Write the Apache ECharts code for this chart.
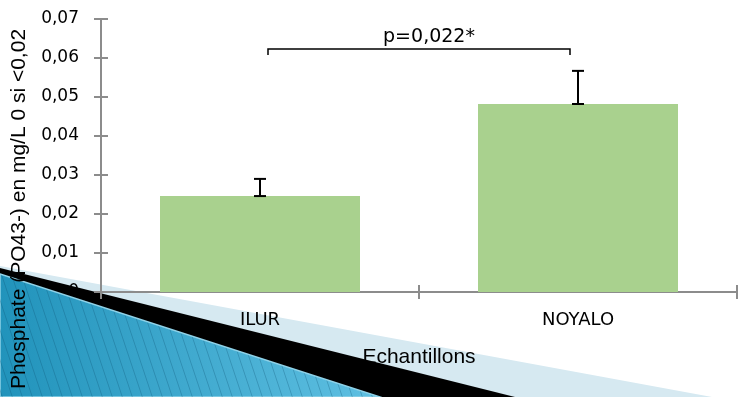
<!DOCTYPE html>
<html>
<head>
<meta charset="utf-8">
<script src="https://cdn.jsdelivr.net/npm/echarts@6/dist/echarts.min.js"></script>
<style>
  html, body { margin: 0; padding: 0; background: #ffffff; }
  #chart { width: 740px; height: 397px; }
</style>
</head>
<body>
<div id="chart"></div>
<script>
// Phosphate concentration per sampling site
const categories = ['ILUR', 'NOYALO'];
const meanValues = [0.0246, 0.0482];
const errorPlus = [0.0044, 0.0085];

// y axis scale
const yMin = 0;
const yMax = 0.07;
const yStep = 0.01;

// significance bracket between the two sites
const bracketLevel = 0.0623;
const bracketTip = 0.0608;
const pLabel = 'p=0,022*';

const yTitle = 'Phosphate (PO43-) en mg/L 0 si <0,02';
const xTitle = 'Echantillons';

const axisGrey = '#8c8c8c';
const barGreen = '#a9d18e';

function fmtTick(v) {
  if (Math.abs(v) < 1e-9) return '0';
  return v.toFixed(2).replace('.', ',');
}

// diagonal stripe tile for the decorative band
function stripeTile() {
  const c = document.createElement('canvas');
  c.width = 10; c.height = 30;
  const g = c.getContext('2d');
  g.strokeStyle = 'rgba(10,80,110,0.28)';
  g.lineWidth = 1;
  for (const off of [-10, 0, 10]) {
    g.beginPath();
    g.moveTo(off, 0);
    g.lineTo(off + 10, 30);
    g.stroke();
  }
  return c;
}

const chart = echarts.init(document.getElementById('chart'), null, { renderer: 'canvas' });

const errorData = categories.map((c, i) => [i, meanValues[i], meanValues[i] + errorPlus[i]]);

const option = {
  backgroundColor: '#ffffff',
  animation: false,
  grid: { left: 101, right: 3, top: 19, bottom: 105, containLabel: false },
  xAxis: [
    {
      type: 'category',
      data: categories,
      boundaryGap: true,
      axisLine: { show: true, lineStyle: { color: axisGrey, width: 2 } },
      axisTick: { show: true, alignWithLabel: false, length: 7, lineStyle: { color: axisGrey, width: 2 } },
      axisLabel: { margin: 19, color: '#000', fontFamily: 'DejaVu Sans', fontSize: 18 },
      name: xTitle,
      nameLocation: 'middle',
      nameGap: 55,
      nameTextStyle: { color: '#000', fontFamily: 'Liberation Sans', fontSize: 21 }
    },
    {
      type: 'category',
      data: categories,
      position: 'bottom',
      boundaryGap: true,
      axisLine: { show: false },
      axisTick: { show: true, inside: true, alignWithLabel: false, length: 7, lineStyle: { color: axisGrey, width: 2 } },
      axisLabel: { show: false }
    }
  ],
  yAxis: [
    {
      type: 'value',
      min: yMin, max: yMax, interval: yStep,
      axisLine: { show: true, lineStyle: { color: axisGrey, width: 2 } },
      axisTick: { show: true, length: 7, lineStyle: { color: axisGrey, width: 2 } },
      splitLine: { show: false },
      axisLabel: { margin: 22, color: '#000', fontFamily: 'DejaVu Sans', fontSize: 17, formatter: fmtTick }
    },
    {
      type: 'value',
      position: 'left',
      min: yMin, max: yMax, interval: yStep,
      axisLine: { show: false },
      axisTick: { show: true, inside: true, length: 7, lineStyle: { color: axisGrey, width: 2 } },
      splitLine: { show: false },
      axisLabel: { show: false }
    }
  ],
  graphic: [
    {
      type: 'polygon', z: -10, silent: true,
      shape: { points: [[0, 266], [712, 397], [0, 397]] },
      style: { fill: '#d6e9f1' }
    },
    {
      type: 'polygon', z: -9, silent: true,
      shape: { points: [[0, 268], [515, 397], [0, 397]] },
      style: { fill: '#000000' }
    },
    {
      type: 'polygon', z: -8, silent: true,
      shape: { points: [[0, 274], [380, 397], [0, 397]] },
      style: {
        fill: new echarts.graphic.LinearGradient(0, 0, 1, 0, [
          { offset: 0, color: '#2193bb' },
          { offset: 1, color: '#5fc0e2' }
        ]),
        stroke: '#8fd2e8', lineWidth: 1.5
      }
    },
    {
      type: 'polygon', z: -7, silent: true,
      shape: { points: [[0, 275], [378, 397], [0, 397]] },
      style: { fill: { image: stripeTile(), repeat: 'repeat' } }
    },
    {
      type: 'text', z: 20, silent: true,
      x: 19, y: 209, rotation: Math.PI / 2,
      style: {
        text: yTitle, fill: '#000', font: '21px "Liberation Sans"',
        align: 'center', verticalAlign: 'middle'
      }
    }
  ],
  series: [
    {
      type: 'bar',
      data: meanValues,
      barWidth: 200,
      itemStyle: { color: barGreen },
      z: 2
    },
    {
      type: 'custom',
      z: 5,
      data: errorData,
      encode: { x: 0, y: [1, 2] },
      renderItem: function (params, api) {
        const lo = api.coord([api.value(0), api.value(1)]);
        const hi = api.coord([api.value(0), api.value(2)]);
        const cap = 6;
        const st = { stroke: '#000', lineWidth: 2 };
        return {
          type: 'group',
          children: [
            { type: 'line', shape: { x1: lo[0], y1: lo[1], x2: hi[0], y2: hi[1] }, style: st },
            { type: 'line', shape: { x1: hi[0] - cap, y1: hi[1], x2: hi[0] + cap, y2: hi[1] }, style: st },
            { type: 'line', shape: { x1: lo[0] - cap, y1: lo[1], x2: lo[0] + cap, y2: lo[1] }, style: st }
          ]
        };
      }
    },
    {
      type: 'custom',
      z: 5,
      data: [[0, 1, bracketLevel, bracketTip]],
      encode: { x: [0, 1], y: [2, 3] },
      renderItem: function (params, api) {
        const a = api.coord([api.value(0), api.value(2)]);
        const b = api.coord([api.value(1), api.value(2)]);
        const tip = api.coord([api.value(0), api.value(3)]);
        const inset = 8;
        const x1 = a[0] + inset, x2 = b[0] - inset, y = a[1], ty = tip[1];
        return {
          type: 'group',
          children: [
            {
              type: 'polyline',
              shape: { points: [[x1, ty], [x1, y], [x2, y], [x2, ty]] },
              style: { stroke: '#000', lineWidth: 1.5, fill: null }
            },
            {
              type: 'text',
              x: (x1 + x2) / 2 + 10, y: y - 2,
              style: {
                text: pLabel, fill: '#000', font: '19px "DejaVu Sans"',
                align: 'center', verticalAlign: 'bottom'
              }
            }
          ]
        };
      }
    }
  ]
};

chart.setOption(option);
</script>
</body>
</html>
